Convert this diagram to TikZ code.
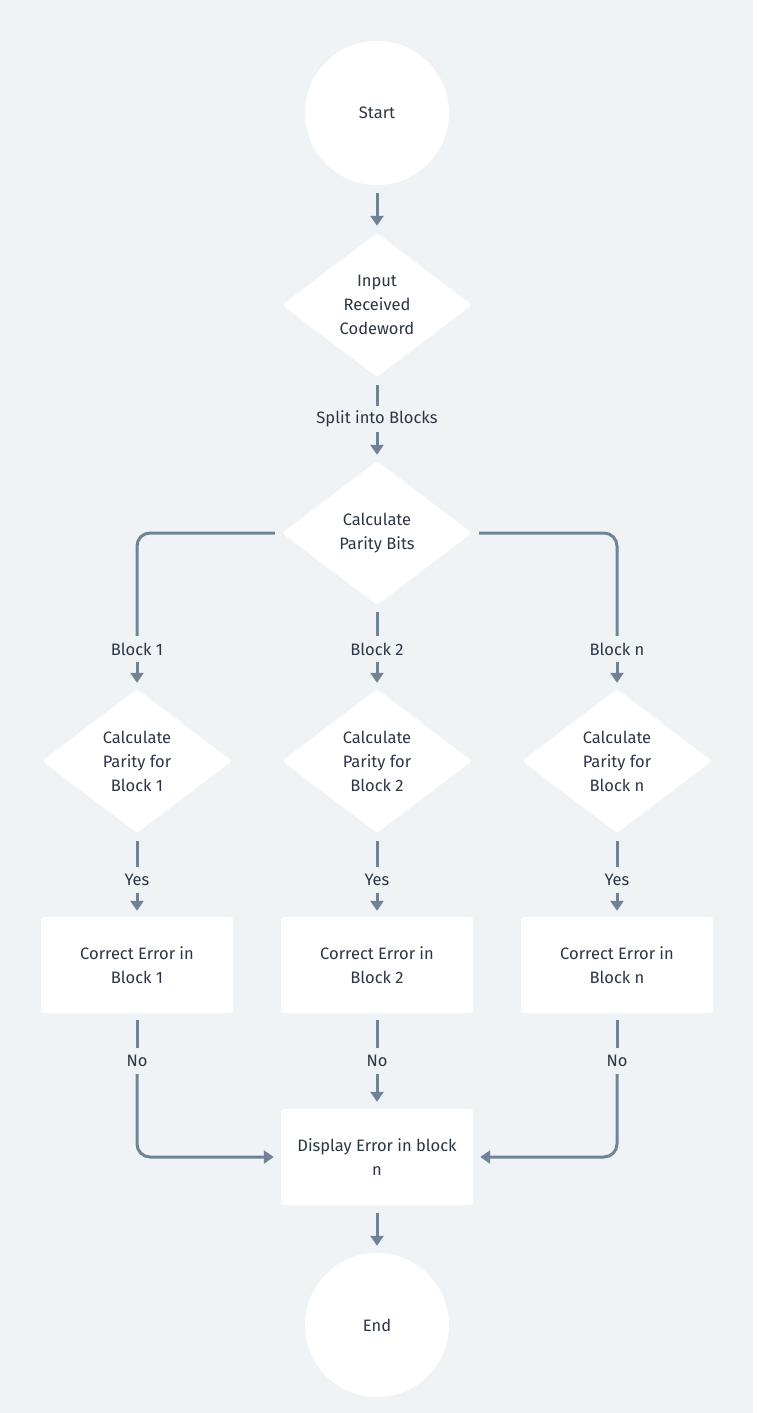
\documentclass[tikz,border=0pt]{standalone}
\usepackage{fontspec}
\setmainfont{Fira Sans}
\usetikzlibrary{shapes.geometric,arrows.meta}
\definecolor{bgc}{HTML}{F0F3F6}
\definecolor{linec}{HTML}{728296}
\definecolor{txtc}{HTML}{2C3644}
\begin{document}
\begin{tikzpicture}[x=1pt,y=-1pt,
  every node/.style={font=\fontsize{16.5}{24}\selectfont, text=txtc},
  circ/.style={circle, fill=white, minimum size=144pt, inner sep=0pt},
  dia/.style={diamond, fill=white, minimum width=190pt, minimum height=144pt, inner sep=0pt, align=center, rounded corners=3pt},
  boxn/.style={rectangle, fill=white, minimum width=192pt, minimum height=96pt, inner sep=0pt, align=center, rounded corners=3pt},
  lab/.style={inner sep=0pt, minimum height=26pt},
  conn/.style={draw=linec, line width=3pt},
  arr/.style={conn, -{Triangle[length=10pt,width=13pt]}},
]
\fill[white] (0,0) rectangle (758,1413);
\fill[bgc] (0,0) rectangle (753,1413);
\useasboundingbox (0,0) rectangle (758,1413);

\node[circ] (start) at (377,113) {Start};
\node[dia] (d1) at (377,305) {Input\\Received\\Codeword};
\node[lab] (split) at (377,419) {Split into Blocks};
\node[dia] (d2) at (377,533) {Calculate\\Parity Bits};

\node[lab] (l1) at (137,649) {Block 1};
\node[lab] (l2) at (377,649) {Block 2};
\node[lab] (l3) at (617,649) {Block n};

\node[dia] (p1) at (137,761) {Calculate\\Parity for\\Block 1};
\node[dia] (p2) at (377,761) {Calculate\\Parity for\\Block 2};
\node[dia] (p3) at (617,761) {Calculate\\Parity for\\Block n};

\node[lab] (y1) at (137,880) {Yes};
\node[lab] (y2) at (377,880) {Yes};
\node[lab] (y3) at (617,880) {Yes};

\node[boxn] (c1) at (137,965) {Correct Error in\\Block 1};
\node[boxn] (c2) at (377,965) {Correct Error in\\Block 2};
\node[boxn] (c3) at (617,965) {Correct Error in\\Block n};

\node[lab] (n1) at (137,1061) {No};
\node[lab] (n2) at (377,1061) {No};
\node[lab] (n3) at (617,1061) {No};

\node[boxn] (disp) at (377,1157) {Display Error in block\\n};
\node[circ] (end) at (377,1325) {End};

\draw[arr, shorten <=8pt, shorten >=7pt] (start) -- (d1);
\draw[conn, shorten <=8pt] (d1) -- (split.north);
\draw[arr, shorten >=6pt] (split.south) -- (d2);

\draw[conn, rounded corners=13pt, shorten <=7pt] (d2.west) -| (l1.north);
\draw[conn, shorten <=7pt] (d2.south) -- (l2.north);
\draw[conn, rounded corners=13pt, shorten <=7pt] (d2.east) -| (l3.north);

\foreach \i in {1,2,3}{
  \draw[arr, shorten >=6pt] (l\i.south) -- (p\i.north);
  \draw[conn, shorten <=8pt] (p\i.south) -- (y\i.north);
  \draw[arr, shorten >=6pt] (y\i.south) -- (c\i.north);
  \draw[conn, shorten <=7pt] (c\i.south) -- (n\i.north);
}
\draw[arr, rounded corners=13pt, shorten >=7pt] (n1.south) |- (disp.west);
\draw[arr, shorten >=7pt] (n2.south) -- (disp.north);
\draw[arr, rounded corners=13pt, shorten >=7pt] (n3.south) |- (disp.east);
\draw[arr, shorten <=8pt, shorten >=7pt] (disp) -- (end);
\end{tikzpicture}
\end{document}
